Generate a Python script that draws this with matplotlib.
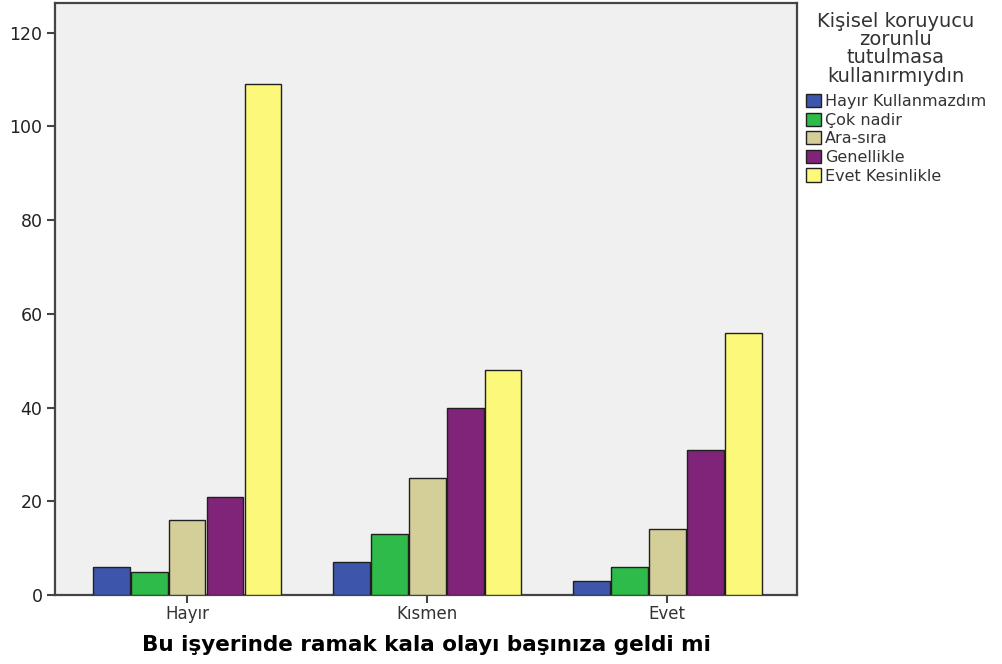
import matplotlib
matplotlib.use("Agg")
import matplotlib.pyplot as plt
import numpy as np

categories = ["Hayır", "Kısmen", "Evet"]
series_names = ["Hayır Kullanmazdım", "Çok nadir", "Ara-sıra", "Genellikle", "Evet Kesinlikle"]
hayir_kullanmazdim = [6, 7, 3]
cok_nadir = [5, 13, 6]
ara_sira = [16, 25, 14]
genellikle = [21, 40, 31]
evet_kesinlikle = [109, 48, 56]
series_values = [hayir_kullanmazdim, cok_nadir, ara_sira, genellikle, evet_kesinlikle]
colors = ["#3D56AB", "#2EBB4A", "#D4CF98", "#7F2479", "#FBF87A"]
yticks = [0, 20, 40, 60, 80, 100, 120]

plt.rcParams['font.family'] = ['DejaVu Sans']

fig = plt.figure(figsize=(10.02, 6.64), dpi=100)
ax = fig.add_axes([0.0549, 0.1039, 0.7405, 0.8916])
ax.set_facecolor("#F0F0F0")

x = np.arange(len(categories))
w = 0.158
for i, (name, vals, c) in enumerate(zip(series_names, series_values, colors)):
    ax.bar(x + (i - 2) * w, vals, width=w * 0.97, color=c, edgecolor="#202020",
           linewidth=1.0, label=name, zorder=3)

ax.set_xlim(-0.55, 2.54)
ax.set_ylim(0, 126.3)
ax.set_yticks(yticks)
ax.set_xticks(x)
ax.set_xticklabels(categories, fontsize=12, color="#333333")
ax.tick_params(axis='y', labelsize=12.5, length=6, width=1.5, color="#444444", labelcolor="#222222", pad=3)
ax.tick_params(axis='x', length=6, width=1.5, color="#444444", pad=1)
for s in ax.spines.values():
    s.set_linewidth(1.6)
    s.set_color("#444444")

ax.set_xlabel("Bu işyerinde ramak kala olayı başınıza geldi mi", fontsize=15.5,
              fontweight="bold", labelpad=9)

leg = ax.legend(title="Kişisel koruyucu\nzorunlu\ntutulmasa\nkullanırmıydın",
                loc="upper left", bbox_to_anchor=(1.0, 1.0), frameon=False,
                fontsize=11.5, title_fontsize=14, handlelength=0.95, handleheight=0.9,
                handletextpad=0.25, labelspacing=0.22, borderaxespad=0.15,
                borderpad=0.4)
leg._legend_box.align = "center"
leg._legend_box.sep = 6
leg.get_title().set_multialignment("center")
leg.get_title().set_color("#333333")
leg.get_title().set_linespacing(0.95)
for t in leg.get_texts():
    t.set_color("#333333")
for h in leg.legend_handles:
    h.set_edgecolor("#202020")

fig.savefig("out.png", dpi=100)
